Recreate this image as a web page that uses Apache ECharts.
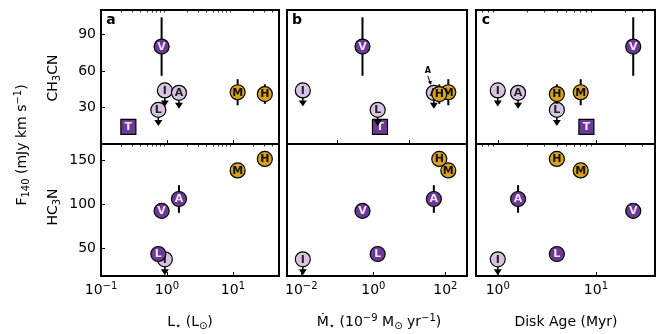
<!DOCTYPE html>
<html>
<head>
<meta charset="utf-8">
<script src="https://cdn.jsdelivr.net/npm/echarts@6/dist/echarts.min.js"></script>
<style>
  html, body { margin: 0; padding: 0; background: #fff; }
  #chart { width: 665px; height: 334px; }
</style>
</head>
<body>
<div id="chart"></div>
<script>
// sources and their properties
var sources = ['T', 'L', 'I', 'V', 'A', 'M', 'H']
var lumin = [0.26, 0.74, 0.93, 0.83, 1.52, 11.8, 30.5]
var mdot = [1.53, 1.32, 0.011, 0.50, 48, 121, 68]
var diskAge = [8.0, 4.0, 1.0, 24, 1.61, 7.0, 4.0]
var ch3cnFlux = [14, 28, 44, 80, 42, 42.5, 41]
var ch3cnErr = [0, 0, 0, 24, 0, 10.7, 8]
var ch3cnUpper = [0, 1, 1, 0, 1, 0, 0]
var hc3nFlux = [null, 44, 38, 93, 106.5, 139, 152]
var hc3nErr = [0, 0, 0, 0, 15.7, 5, 5]
var hc3nUpper = [0, 0, 1, 0, 0, 0, 0]
var herbig = [0, 0, 0, 0, 0, 1, 1]
var squareMarker = [1, 0, 0, 0, 0, 0, 0]
var ch3cnTicks = [30, 60, 90]
var hc3nTicks = [50, 100, 150]

var DARK = '#6a3a97'
var LIGHT = '#d8c4e2'
var GOLD = '#d9a21c'
var PALE = '#f6e0ee'
var FONT = 'DejaVu Sans'

var rich = {
  n: {fontSize: 14, lineHeight: 18, fontFamily: FONT, color: '#000'},
  sup: {fontSize: 10, lineHeight: 10, verticalAlign: 'top', fontFamily: FONT, color: '#000'},
  sub: {fontSize: 10, lineHeight: 10, verticalAlign: 'bottom', fontFamily: FONT, color: '#000'}
}

function minorTicks (min, max) {
  var out = []
  for (var e = Math.floor(Math.log10(min)); e <= Math.ceil(Math.log10(max)); e++) {
    for (var m = 2; m <= 9; m++) {
      var v = m * Math.pow(10, e)
      if (v >= min && v <= max) out.push(v)
    }
  }
  return out
}

var cols = [
  {vals: lumin, left: 101, width: 178, min: 0.1, max: 50, topTicks: [0.1, 1, 10], bottomTicks: [0.1, 1, 10], minor: true, letter: 'a'},
  {vals: mdot, left: 287, width: 180, min: 0.004, max: 400, topTicks: [0.1, 10], bottomTicks: [0.01, 1, 100], minor: false, letter: 'b'},
  {vals: diskAge, left: 476, width: 179, min: 0.6, max: 40, topTicks: [1, 10], bottomTicks: [1, 10], minor: true, letter: 'c'}
]
var rows = [
  {flux: ch3cnFlux, err: ch3cnErr, upper: ch3cnUpper, top: 10, height: 134, min: 0, max: 110, ticks: ch3cnTicks},
  {flux: hc3nFlux, err: hc3nErr, upper: hc3nUpper, top: 144, height: 132, min: 19, max: 169, ticks: hc3nTicks}
]

function rank (i, upper) {
  if (squareMarker[i]) return 0
  if (upper[i]) return 1
  if (herbig[i]) return 3
  return 2
}

function makeRender (gridIdx) {
  return function (params, api) {
    var src = api.value(3)
    var upper = api.value(4)
    var err = api.value(2)
    var c = api.coord([api.value(0), api.value(1)])
    var children = []
    if (err > 0) {
      var hi = api.coord([api.value(0), api.value(1) + err])
      var lo = api.coord([api.value(0), api.value(1) - err])
      children.push({type: 'line', shape: {x1: c[0], y1: hi[1], x2: c[0], y2: lo[1]}, style: {stroke: '#000', lineWidth: 2}})
    }
    if (upper) {
      children.push({type: 'line', shape: {x1: c[0], y1: c[1], x2: c[0], y2: c[1] + 11}, style: {stroke: '#000', lineWidth: 1.5}})
      children.push({type: 'polygon', shape: {points: [[c[0] - 4, c[1] + 10], [c[0] + 4, c[1] + 10], [c[0], c[1] + 16]]}, style: {fill: '#000'}})
    }
    var fill = DARK
    var txt = PALE
    if (upper) { fill = LIGHT; txt = '#222' }
    if (herbig[src]) { fill = GOLD; txt = '#111' }
    if (squareMarker[src]) {
      children.push({type: 'rect', shape: {x: c[0] - 7.5, y: c[1] - 7.5, width: 15, height: 15}, style: {fill: DARK, stroke: '#000', lineWidth: 1.2}})
    } else {
      children.push({type: 'circle', shape: {cx: c[0], cy: c[1], r: 7.5}, style: {fill: fill, stroke: '#000', lineWidth: 1.2}})
    }
    children.push({type: 'text', style: {x: c[0], y: c[1] + 0.5, text: sources[src], fill: txt, font: 'bold 11px "DejaVu Sans"', align: 'center', verticalAlign: 'middle'}})
    // pointer label for the hidden A source in panel b
    if (gridIdx === 1 && sources[src] === 'A') {
      children.push({type: 'text', style: {x: c[0] - 6, y: c[1] - 22, text: 'A', fill: '#000', font: 'bold 8px "DejaVu Sans"', align: 'center', verticalAlign: 'middle'}})
      children.push({type: 'line', shape: {x1: c[0] - 6, y1: c[1] - 17, x2: c[0] - 3.5, y2: c[1] - 9}, style: {stroke: '#000', lineWidth: 1}})
      children.push({type: 'polygon', shape: {points: [[c[0] - 6, c[1] - 11], [c[0] - 2, c[1] - 12], [c[0] - 3, c[1] - 8]]}, style: {fill: '#000'}})
    }
    return {type: 'group', children: children}
  }
}

function expLabel (v) {
  var e = Math.round(Math.log10(v))
  return '{n|10}{sup|' + String(e).replace('-', '\u2212') + '}'
}

var grids = []
var xAxes = []
var yAxes = []
var series = []

rows.forEach(function (row, r) {
  cols.forEach(function (col, k) {
    var g = grids.length
    grids.push({left: col.left, top: row.top, width: col.width, height: row.height, show: true, borderColor: '#000', borderWidth: 2, backgroundColor: 'transparent'})
    var ticks = r === 0 ? col.topTicks : col.bottomTicks
    xAxes.push({
      type: 'log', gridIndex: g, min: col.min, max: col.max, logBase: 10,
      axisLine: {show: false},
      splitLine: {show: false},
      axisTick: {show: true, inside: true, length: 4, customValues: ticks, lineStyle: {color: '#000', width: 1}},
      axisLabel: {show: r === 1, customValues: col.bottomTicks, formatter: expLabel, rich: rich, margin: 5}
    })
    xAxes.push({
      type: 'log', gridIndex: g, min: col.min, max: col.max, logBase: 10,
      axisLine: {show: false},
      splitLine: {show: false},
      axisTick: {show: col.minor, inside: true, length: 2.5, customValues: col.minor ? minorTicks(col.min, col.max) : [], lineStyle: {color: '#000', width: 0.8}},
      axisLabel: {show: false}
    })
    yAxes.push({
      type: 'value', gridIndex: g, min: row.min, max: row.max,
      axisLine: {show: false},
      splitLine: {show: false},
      axisTick: {show: k === 0, inside: true, length: 4, customValues: row.ticks, lineStyle: {color: '#000', width: 1}},
      axisLabel: {show: k === 0, customValues: row.ticks, margin: 5, fontSize: 14, fontFamily: FONT, color: '#000'}
    })
    var data = []
    sources.forEach(function (s, i) {
      if (row.flux[i] === null) return
      data.push([col.vals[i], row.flux[i], row.err[i], i, row.upper[i]])
    })
    data.sort(function (a, b) {
      return (rank(a[3], row.upper) - rank(b[3], row.upper)) || (a[3] - b[3])
    })
    series.push({
      type: 'custom', xAxisIndex: 2 * g, yAxisIndex: g, renderItem: makeRender(g),
      data: data, clip: false, silent: true, animation: false, z: 5
    })
  })
})

var graphic = [
  {type: 'text', x: 22, y: 145, rotation: Math.PI / 2, style: {text: '{n|F}{sub|140}{n| (mJy km s}{sup|\u22121}{n|)}', rich: rich, align: 'center', verticalAlign: 'middle'}},
  {type: 'text', x: 53, y: 78, rotation: Math.PI / 2, style: {text: '{n|CH}{sub|3}{n|CN}', rich: rich, align: 'center', verticalAlign: 'middle'}},
  {type: 'text', x: 53, y: 207, rotation: Math.PI / 2, style: {text: '{n|HC}{sub|3}{n|N}', rich: rich, align: 'center', verticalAlign: 'middle'}},
  {type: 'text', x: 190, y: 322, style: {text: '{n|L}{sub|\u22c6}{n| (L}{sub|\u2299}{n|)}', rich: rich, align: 'center', verticalAlign: 'middle'}},
  {type: 'text', x: 379, y: 322, style: {text: '{n|\u1e40}{sub|\u22c6}{n| (10}{sup|\u22129}{n| M}{sub|\u2299}{n| yr}{sup|\u22121}{n|)}', rich: rich, align: 'center', verticalAlign: 'middle'}},
  {type: 'text', x: 566, y: 322, style: {text: 'Disk Age (Myr)', font: '14px "DejaVu Sans"', fill: '#000', align: 'center', verticalAlign: 'middle'}}
]
cols.forEach(function (col) {
  graphic.push({type: 'text', x: col.left + 10, y: 20, z: 10, style: {text: col.letter, font: 'bold 14px "DejaVu Sans"', fill: '#000', align: 'center', verticalAlign: 'middle'}})
})

var myChart = echarts.init(document.getElementById('chart'))
myChart.setOption({
  animation: false,
  backgroundColor: '#fff',
  grid: grids,
  xAxis: xAxes,
  yAxis: yAxes,
  series: series,
  graphic: graphic
})
</script>
</body>
</html>
